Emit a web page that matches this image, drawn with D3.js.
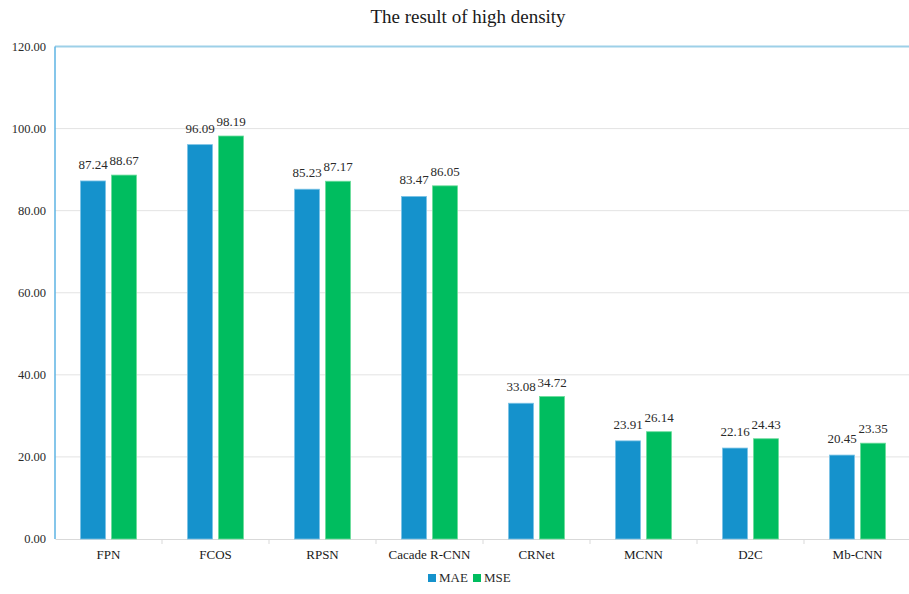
<!DOCTYPE html>
<html>
<head>
<meta charset="utf-8">
<script src="https://cdn.jsdelivr.net/npm/d3@7"></script>
<style>
  html, body { margin: 0; padding: 0; background: #fff; }
  svg { display: block; font-family: "Liberation Serif", "Times New Roman", serif; }
</style>
</head>
<body>
<svg id="chart" width="909" height="594"></svg>
<script>
const categories = ["FPN", "FCOS", "RPSN", "Cacade R-CNN", "CRNet", "MCNN", "D2C", "Mb-CNN"];
const maeValues = [87.24, 96.09, 85.23, 83.47, 33.08, 23.91, 22.16, 20.45];
const mseValues = [88.67, 98.19, 87.17, 86.05, 34.72, 26.14, 24.43, 23.35];
const seriesNames = ["MAE", "MSE"];
const seriesColors = ["#1592cc", "#00bd5f"];
const yTicks = [0, 20, 40, 60, 80, 100, 120];

const svg = d3.select("#chart");
const margin = { left: 55, right: -2, top: 46.5, bottom: 55 };
const W = 909, H = 594;

const x = d3.scaleBand().domain(categories).range([margin.left, W - margin.right]);
const y = d3.scaleLinear().domain([0, 120]).range([H - margin.bottom, margin.top]);

// title
svg.append("text")
  .attr("x", 468).attr("y", 23)
  .attr("text-anchor", "middle")
  .attr("font-size", 19)
  .attr("fill", "#1a1a1a")
  .text("The result of high density");

// horizontal gridlines
svg.append("g")
  .selectAll("line")
  .data(yTicks.filter(t => t > 0 && t < 120))
  .join("line")
  .attr("x1", margin.left).attr("x2", W)
  .attr("y1", d => y(d)).attr("y2", d => y(d))
  .attr("stroke", "#e3e3e3").attr("stroke-width", 1);

// top border line
svg.append("line")
  .attr("x1", margin.left).attr("x2", W)
  .attr("y1", y(120)).attr("y2", y(120))
  .attr("stroke", "#9dd0e8").attr("stroke-width", 2);

// y axis labels
svg.append("g")
  .selectAll("text")
  .data(yTicks)
  .join("text")
  .attr("x", 46).attr("y", d => y(d) + 4)
  .attr("text-anchor", "end")
  .attr("font-size", 12.5)
  .attr("fill", "#2a2a2a")
  .text(d => d.toFixed(2));

// x axis baseline and category separators
const xAxis = d3.axisBottom(x).tickSize(0).tickFormat(d => d);
const xg = svg.append("g").attr("transform", `translate(0,${y(0)})`).call(xAxis);
xg.select(".domain").attr("stroke", "#d9d9d9");
xg.selectAll(".tick text")
  .attr("dy", 0).attr("y", 20)
  .attr("font-size", 13)
  .attr("font-family", "Liberation Serif, serif")
  .attr("fill", "#1a1a1a");
svg.append("g")
  .selectAll("line")
  .data(categories.slice(1))
  .join("line")
  .attr("x1", d => x(d)).attr("x2", d => x(d))
  .attr("y1", y(0)).attr("y2", y(0) + 5)
  .attr("stroke", "#d9d9d9");

// left axis line
svg.append("line")
  .attr("x1", margin.left).attr("x2", margin.left)
  .attr("y1", y(120)).attr("y2", y(0))
  .attr("stroke", "#5db3e3").attr("stroke-width", 1.5);

// bars with value labels
const barW = 25, gap = 6;
const series = [maeValues, mseValues];
series.forEach((vals, si) => {
  const g = svg.append("g");
  const xpos = (c) => x(c) + x.bandwidth() / 2 + (si === 0 ? -(gap / 2 + barW) : gap / 2);
  const rows = categories.map((c, i) => ({ c, v: vals[i] }));
  g.selectAll("rect")
    .data(rows)
    .join("rect")
    .attr("x", d => xpos(d.c))
    .attr("y", d => y(d.v))
    .attr("width", barW)
    .attr("height", d => y(0) - y(d.v))
    .attr("fill", seriesColors[si])
    .attr("stroke", si === 0 ? "#7cc3e6" : "#6bdc9b")
    .attr("stroke-width", 0.8);
  g.selectAll("text")
    .data(rows)
    .join("text")
    .attr("x", d => xpos(d.c) + barW / 2)
    .attr("y", d => y(d.v) - (si === 0 ? 12 : 10))
    .attr("text-anchor", "middle")
    .attr("font-size", 13)
    .attr("fill", "#2a2a2a")
    .text(d => d.v.toFixed(2));
});

// legend
const legend = svg.append("g").attr("transform", "translate(428,582)");
const items = [{ name: seriesNames[0], color: seriesColors[0], dx: 0 }, { name: seriesNames[1], color: seriesColors[1], dx: 45 }];
items.forEach(it => {
  legend.append("rect").attr("x", it.dx).attr("y", -8).attr("width", 8).attr("height", 8).attr("fill", it.color);
  legend.append("text").attr("x", it.dx + 11).attr("y", 0).attr("font-size", 13).attr("fill", "#2a2a2a").text(it.name);
});
</script>
</body>
</html>
